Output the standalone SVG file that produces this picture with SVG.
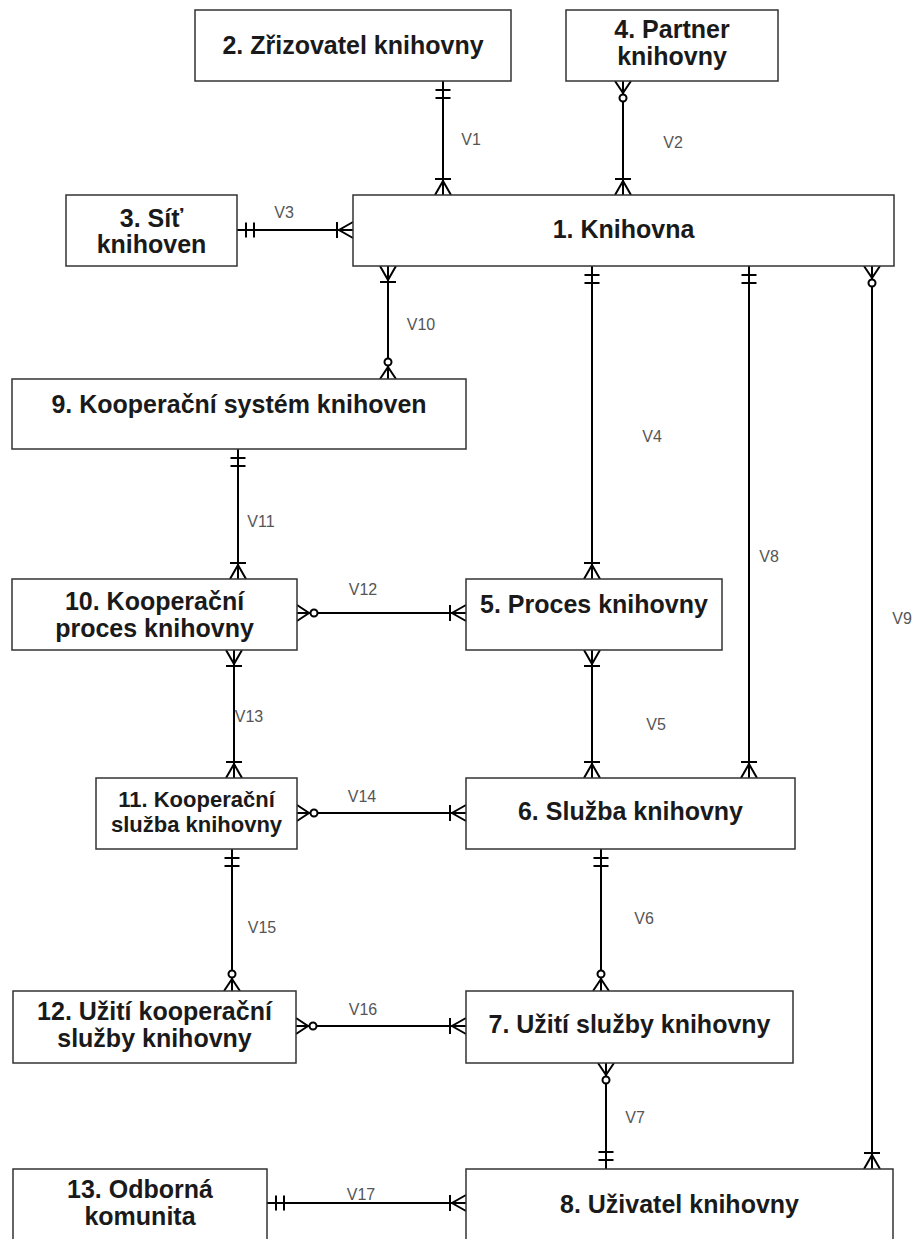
<svg xmlns="http://www.w3.org/2000/svg" width="914" height="1239" viewBox="0 0 914 1239">
<style>
.box{fill:#fff;stroke:#333;stroke-width:1.5}
.t{font-family:"Liberation Sans",Arial,sans-serif;font-weight:bold;font-size:25px;fill:#1a1a1a;text-anchor:middle}
.s{font-size:22px}
.c{fill:none;stroke:#000;stroke-width:2}
.lbl{font-family:"Liberation Sans",Arial,sans-serif;font-size:16px;fill:#555;text-anchor:middle}
.mk{fill:none;stroke:#000;stroke-width:2}
</style>
<defs>
<marker id="mandOne" markerUnits="userSpaceOnUse" viewBox="-24 -12 26 24" refX="0" refY="0" markerWidth="26" markerHeight="24" orient="auto-start-reverse" overflow="visible">
<path class="mk" d="M-9,-7.5V7.5M-17,-7.5V7.5"/>
</marker>
<marker id="oneMany" markerUnits="userSpaceOnUse" viewBox="-24 -12 26 24" refX="0" refY="0" markerWidth="26" markerHeight="24" orient="auto-start-reverse" overflow="visible">
<path class="mk" d="M0,-8L-14,0L0,8M-16,-8V8"/>
</marker>
<marker id="zeroMany" markerUnits="userSpaceOnUse" viewBox="-24 -12 26 24" refX="0" refY="0" markerWidth="26" markerHeight="24" orient="auto-start-reverse" overflow="visible">
<path class="mk" d="M0,-8L-12,0L0,8"/>
<circle cx="-17" cy="0" r="3.5" fill="#fff" stroke="#000" stroke-width="2"/>
</marker>
</defs>

<g id="connectors">
<line id="V1" class="c" x1="443" y1="81" x2="443" y2="195" marker-start="url(#mandOne)" marker-end="url(#oneMany)"/>
<line id="V2" class="c" x1="623" y1="81" x2="623" y2="195" marker-start="url(#zeroMany)" marker-end="url(#oneMany)"/>
<line id="V3" class="c" x1="237" y1="230" x2="353" y2="230" marker-start="url(#mandOne)" marker-end="url(#oneMany)"/>
<line id="V10" class="c" x1="388" y1="266" x2="388" y2="379" marker-start="url(#oneMany)" marker-end="url(#zeroMany)"/>
<line id="V4" class="c" x1="592" y1="266" x2="592" y2="579" marker-start="url(#mandOne)" marker-end="url(#oneMany)"/>
<line id="V8" class="c" x1="749" y1="266" x2="749" y2="778" marker-start="url(#mandOne)" marker-end="url(#oneMany)"/>
<line id="V9" class="c" x1="872" y1="266" x2="872" y2="1169" marker-start="url(#zeroMany)" marker-end="url(#oneMany)"/>
<line id="V11" class="c" x1="238" y1="449" x2="238" y2="579" marker-start="url(#mandOne)" marker-end="url(#oneMany)"/>
<line id="V12" class="c" x1="297" y1="613" x2="466" y2="613" marker-start="url(#zeroMany)" marker-end="url(#oneMany)"/>
<line id="V13" class="c" x1="234" y1="650" x2="234" y2="778" marker-start="url(#oneMany)" marker-end="url(#oneMany)"/>
<line id="V5" class="c" x1="592" y1="650" x2="592" y2="778" marker-start="url(#oneMany)" marker-end="url(#oneMany)"/>
<line id="V14" class="c" x1="297" y1="813" x2="466" y2="813" marker-start="url(#zeroMany)" marker-end="url(#oneMany)"/>
<line id="V15" class="c" x1="232" y1="849" x2="232" y2="991" marker-start="url(#mandOne)" marker-end="url(#zeroMany)"/>
<line id="V6" class="c" x1="601" y1="849" x2="601" y2="991" marker-start="url(#mandOne)" marker-end="url(#zeroMany)"/>
<line id="V16" class="c" x1="296" y1="1026" x2="466" y2="1026" marker-start="url(#zeroMany)" marker-end="url(#oneMany)"/>
<line id="V7" class="c" x1="606" y1="1063" x2="606" y2="1169" marker-start="url(#zeroMany)" marker-end="url(#mandOne)"/>
<line id="V17" class="c" x1="267" y1="1203" x2="466" y2="1203" marker-start="url(#mandOne)" marker-end="url(#oneMany)"/>
<g id="connector-labels">
<text class="lbl" x="471" y="145">V1</text>
<text class="lbl" x="673" y="148">V2</text>
<text class="lbl" x="284" y="218">V3</text>
<text class="lbl" x="421" y="330">V10</text>
<text class="lbl" x="652" y="442">V4</text>
<text class="lbl" x="769" y="562">V8</text>
<text class="lbl" x="902" y="624">V9</text>
<text class="lbl" x="261" y="527">V11</text>
<text class="lbl" x="363" y="595">V12</text>
<text class="lbl" x="249" y="722">V13</text>
<text class="lbl" x="656" y="730">V5</text>
<text class="lbl" x="362" y="802">V14</text>
<text class="lbl" x="262" y="933">V15</text>
<text class="lbl" x="644" y="924">V6</text>
<text class="lbl" x="363" y="1015">V16</text>
<text class="lbl" x="635" y="1123">V7</text>
<text class="lbl" x="361" y="1200">V17</text>
</g>
</g>

<g id="n1"><rect class="box" x="353" y="195" width="541" height="71"/><text class="t" x="623.5" y="238">1. Knihovna</text></g>
<g id="n2"><rect class="box" x="195" y="10" width="316" height="71"/><text class="t" x="353" y="54">2. Zřizovatel knihovny</text></g>
<g id="n3"><rect class="box" x="66" y="195" width="171" height="71"/><text class="t" x="151.5" y="227">3. Síť</text><text class="t" x="151.5" y="253">knihoven</text></g>
<g id="n4"><rect class="box" x="566" y="10" width="212" height="71"/><text class="t" x="672" y="38">4. Partner</text><text class="t" x="672" y="65">knihovny</text></g>
<g id="n5"><rect class="box" x="466" y="579" width="256" height="71"/><text class="t" x="594" y="613">5. Proces knihovny</text></g>
<g id="n6"><rect class="box" x="466" y="778" width="329" height="71"/><text class="t" x="630.5" y="820">6. Služba knihovny</text></g>
<g id="n7"><rect class="box" x="466" y="991" width="327" height="72"/><text class="t" x="629.5" y="1033">7. Užití služby knihovny</text></g>
<g id="n8"><rect class="box" x="466" y="1169" width="427" height="90"/><text class="t" x="679.5" y="1213">8. Uživatel knihovny</text></g>
<g id="n9"><rect class="box" x="12" y="379" width="454" height="70"/><text class="t" x="239" y="413">9. Kooperační systém knihoven</text></g>
<g id="n10"><rect class="box" x="12" y="579" width="285" height="71"/><text class="t" x="154.5" y="610">10. Kooperační</text><text class="t" x="154.5" y="637">proces knihovny</text></g>
<g id="n11"><rect class="box" x="96" y="778" width="201" height="71"/><text class="t s" x="196.5" y="807">11. Kooperační</text><text class="t s" x="196.5" y="832">služba knihovny</text></g>
<g id="n12"><rect class="box" x="13" y="991" width="283" height="72"/><text class="t" x="154.5" y="1020">12. Užití kooperační</text><text class="t" x="154.5" y="1047">služby knihovny</text></g>
<g id="n13"><rect class="box" x="13" y="1169" width="254" height="90"/><text class="t" x="140" y="1198">13. Odborná</text><text class="t" x="140" y="1225">komunita</text></g>
</svg>
